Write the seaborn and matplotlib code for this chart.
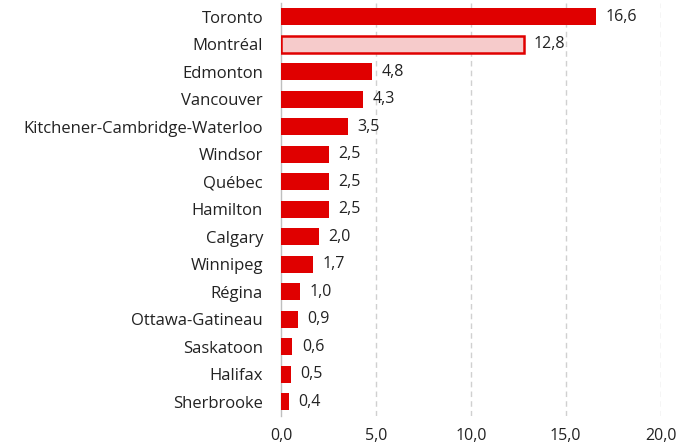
import matplotlib
matplotlib.use("Agg")
import matplotlib.pyplot as plt
import pandas as pd
import seaborn as sns

cities = [
    "Toronto", "Montréal", "Edmonton", "Vancouver", "Kitchener-Cambridge-Waterloo",
    "Windsor", "Québec", "Hamilton", "Calgary", "Winnipeg", "Régina",
    "Ottawa-Gatineau", "Saskatoon", "Halifax", "Sherbrooke",
]
values = [16.6, 12.8, 4.8, 4.3, 3.5, 2.5, 2.5, 2.5, 2.0, 1.7, 1.0, 0.9, 0.6, 0.5, 0.4]
highlight = "Montréal"

RED = "#E00000"
PINK = "#F6CBCB"

sns.set_style("white")
plt.rcParams["font.family"] = ["Open Sans", "DejaVu Sans"]

df = pd.DataFrame({"city": cities, "value": values})

fig = plt.figure(figsize=(6.94, 4.44), dpi=100)
ax = fig.add_axes([0.405, 0.064, 0.547, 0.929])

sns.barplot(data=df, x="value", y="city", orient="h", color=RED, width=0.62,
            saturation=1, ax=ax, zorder=3)

for patch, city in zip(ax.patches, cities):
    if city == highlight:
        patch.set_facecolor(PINK)
        patch.set_edgecolor(RED)
        patch.set_linewidth(1.8)
    else:
        patch.set_edgecolor("none")

# value labels with comma decimals
for i, v in enumerate(values):
    ax.text(v + 0.5, i, f"{v:.1f}".replace(".", ","), va="center", ha="left",
            fontsize=11.5, color="#222222")

ax.set_xlim(0, 20)
ax.set_ylim(14.5, -0.5)
ax.set_xticks([0, 5, 10, 15, 20])
ax.set_xticklabels([f"{t:.1f}".replace(".", ",") for t in [0, 5, 10, 15, 20]],
                   fontsize=11.5, color="#222222")
ax.tick_params(axis="y", labelsize=12, colors="#222222", length=0, pad=13)
ax.tick_params(axis="x", length=0, pad=9)
ax.set_xlabel("")
ax.set_ylabel("")

for x in [5, 10, 15, 20]:
    ax.axvline(x, color="#D0D0D0", linestyle=(0, (4, 3)), linewidth=1, zorder=1)

for side in ["top", "right", "bottom"]:
    ax.spines[side].set_visible(False)
ax.spines["left"].set_color("#BFBFBF")
ax.spines["left"].set_linewidth(1)

fig.savefig("out.png", dpi=100)
